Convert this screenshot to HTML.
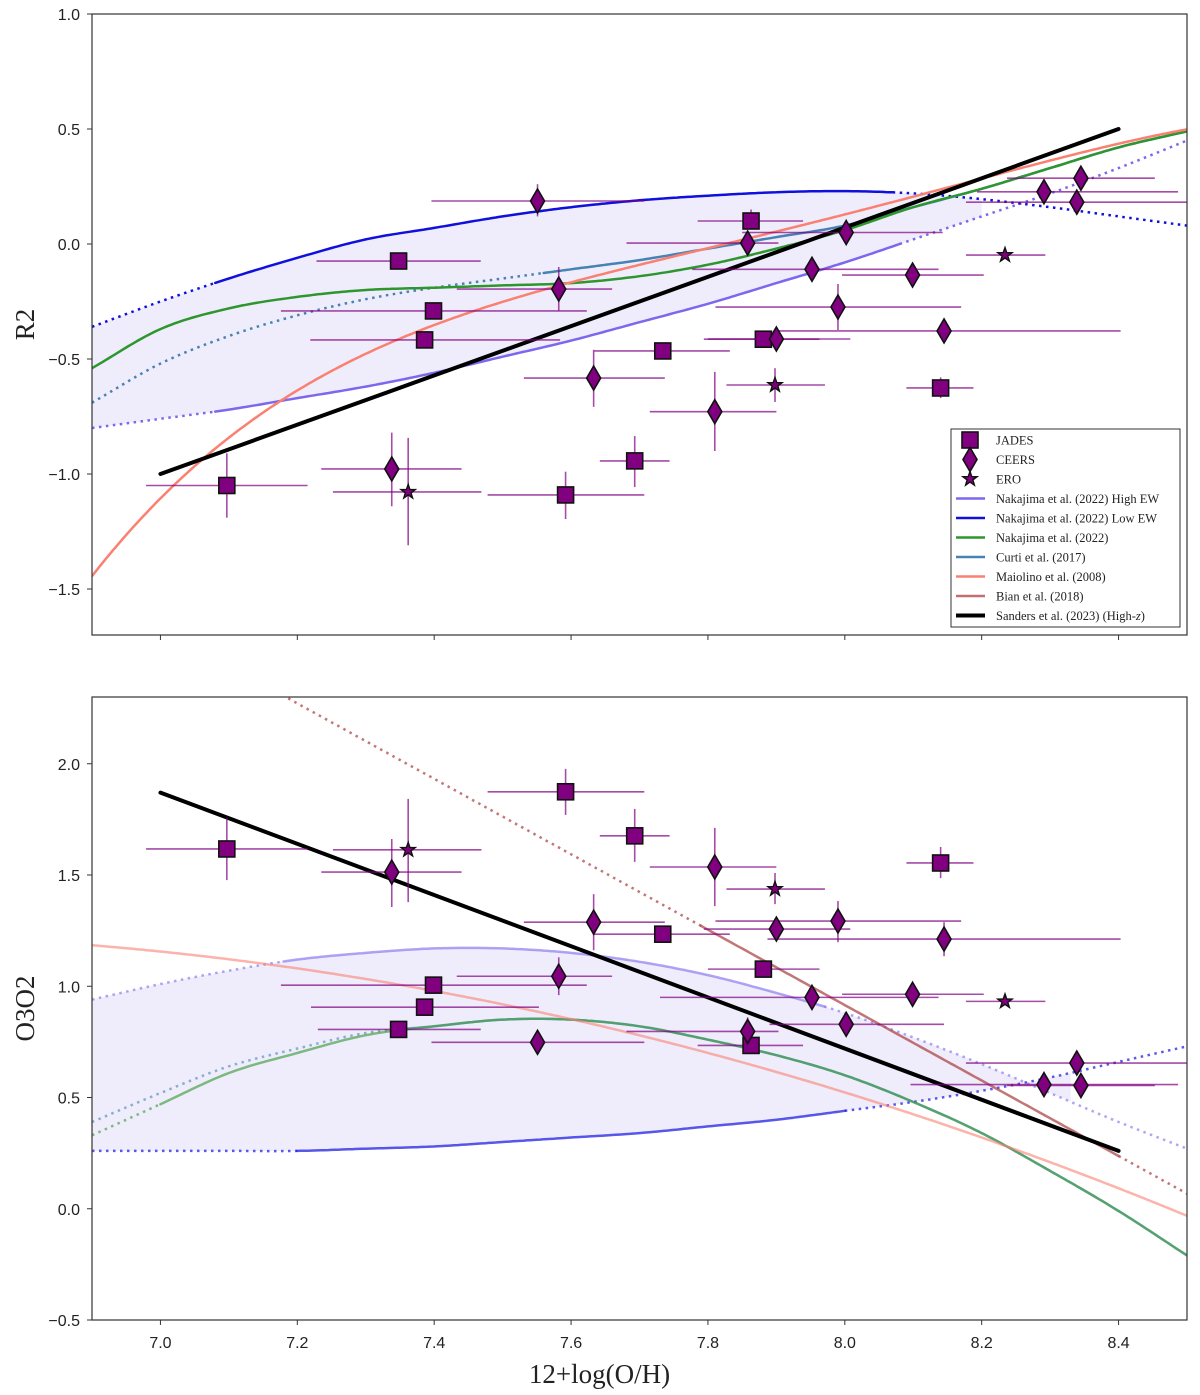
<!DOCTYPE html>
<html><head><meta charset="utf-8"><style>
body{margin:0;background:#fff}
svg{display:block}
text{font-family:"Liberation Sans",sans-serif}
.serif{font-family:"Liberation Serif",serif}
</style></head>
<body>
<svg id="fig" width="1200" height="1395" viewBox="0 0 1200 1395" xmlns="http://www.w3.org/2000/svg"></svg>
<script>
// ---------- data ----------
const gridX = [6.9,7.0,7.1,7.2,7.3,7.4,7.5,7.6,7.7,7.8,7.9,8.0,8.1,8.2,8.3,8.4,8.5];
// R2 calibrations (top)
const r2LowEW  = [-0.36,-0.25,-0.15,-0.06,0.02,0.07,0.12,0.16,0.19,0.21,0.225,0.23,0.22,0.195,0.16,0.12,0.08];
const r2HighEW = [-0.80,-0.76,-0.72,-0.67,-0.62,-0.56,-0.49,-0.42,-0.34,-0.26,-0.17,-0.08,0.02,0.12,0.22,0.33,0.45];
const r2Naka   = [-0.54,-0.37,-0.28,-0.23,-0.20,-0.19,-0.18,-0.17,-0.14,-0.09,-0.02,0.06,0.16,0.24,0.33,0.42,0.49];
const r2Curti  = [-0.69,-0.52,-0.40,-0.31,-0.24,-0.19,-0.15,-0.11,-0.07,-0.02,0.03,0.08,0.16,0.24,0.33,0.42,0.49];
const r2Maiolino = [0.5603,0.0450,-1.8017,-1.8434,-0.6549];
const r2Sanders = [[7.0,-1.0],[8.4,0.5]];
// O3O2 calibrations (bottom)
const o32HighEW = [0.94,1.01,1.07,1.12,1.15,1.17,1.17,1.15,1.11,1.05,0.97,0.88,0.77,0.65,0.52,0.39,0.27];
const o32LowEW  = [0.26,0.26,0.26,0.26,0.27,0.28,0.30,0.32,0.34,0.37,0.40,0.44,0.48,0.53,0.59,0.66,0.73];
const o32Naka   = [0.33,0.47,0.61,0.70,0.78,0.82,0.85,0.85,0.82,0.76,0.69,0.60,0.48,0.34,0.17,-0.01,-0.21];
const o32Curti  = [0.39,0.52,0.64,0.72,0.79,0.82,0.85,0.85,0.82,0.76,0.69,0.60,0.48,0.34,0.17,-0.01,-0.21];
const o32Maiolino = [-0.2839,-1.3881,-0.3172];
const o32Bian = [8.54,0.59];
const o32Sanders = [[7.0,1.87],[8.4,0.26]];
// points [x, y, xlo, xhi, ylo, yhi]
const jadesR2 = [[7.097,-1.05,6.979,7.215,-1.19,-0.91],[7.348,-0.074,7.228,7.468,-0.09,-0.05],[7.399,-0.291,7.176,7.623,-0.31,-0.27],[7.386,-0.417,7.219,7.584,-0.44,-0.39],[7.592,-1.091,7.478,7.707,-1.196,-0.99],[7.734,-0.465,7.634,7.832,-0.49,-0.44],[7.693,-0.943,7.642,7.744,-1.057,-0.835],[7.863,0.10,7.785,7.939,0.07,0.15],[7.881,-0.414,7.794,7.963,-0.44,-0.39],[8.140,-0.626,8.09,8.188,-0.67,-0.58]];
const ceersR2 = [[7.551,0.187,7.396,7.707,0.12,0.26],[7.582,-0.196,7.433,7.66,-0.29,-0.10],[7.633,-0.583,7.531,7.737,-0.708,-0.46],[7.338,-0.978,7.235,7.44,-1.14,-0.82],[7.858,0.004,7.681,7.903,-0.03,0.04],[8.002,0.05,7.85,8.143,0.02,0.08],[7.952,-0.11,7.777,8.137,-0.14,-0.08],[8.099,-0.135,7.996,8.203,-0.17,-0.10],[7.99,-0.274,7.811,8.17,-0.374,-0.174],[8.145,-0.378,7.899,8.403,-0.43,-0.33],[7.90,-0.413,7.80,8.008,-0.44,-0.39],[7.81,-0.729,7.715,7.90,-0.9,-0.556],[8.291,0.227,8.193,8.487,0.20,0.25],[8.345,0.286,8.237,8.453,0.26,0.31],[8.339,0.182,8.177,8.5,0.15,0.21]];
const eroR2 = [[7.362,-1.078,7.252,7.469,-1.31,-0.843],[7.898,-0.613,7.827,7.971,-0.687,-0.54],[8.234,-0.048,8.177,8.293,-0.06,-0.035]];
const jadesO32 = [[7.097,1.617,6.979,7.215,1.477,1.757],[7.348,0.806,7.23,7.468,0.79,0.82],[7.399,1.005,7.176,7.623,0.99,1.02],[7.386,0.906,7.22,7.553,0.88,0.93],[7.592,1.874,7.478,7.707,1.77,1.977],[7.734,1.234,7.634,7.832,1.22,1.25],[7.693,1.676,7.642,7.744,1.559,1.797],[7.863,0.734,7.785,7.939,0.72,0.75],[7.881,1.077,7.80,7.963,1.06,1.09],[8.14,1.554,8.09,8.188,1.486,1.626]];
const ceersO32 = [[7.551,0.748,7.396,7.707,0.73,0.77],[7.582,1.045,7.433,7.66,0.96,1.13],[7.633,1.288,7.531,7.737,1.162,1.414],[7.338,1.513,7.235,7.44,1.356,1.662],[7.858,0.797,7.681,7.903,0.73,0.86],[8.002,0.829,7.89,8.145,0.80,0.86],[7.952,0.95,7.73,8.137,0.93,0.97],[8.099,0.964,7.996,8.203,0.94,0.99],[7.99,1.293,7.811,8.17,1.198,1.383],[8.145,1.212,7.887,8.403,1.135,1.288],[7.90,1.257,7.794,8.008,1.23,1.28],[7.81,1.536,7.715,7.90,1.36,1.712],[8.291,0.558,8.096,8.487,0.54,0.58],[8.345,0.554,8.237,8.453,0.54,0.57],[8.339,0.655,8.177,8.5,0.63,0.68]];
const eroO32 = [[7.362,1.613,7.252,7.469,1.378,1.842],[7.898,1.437,7.827,7.971,1.369,1.509],[8.234,0.932,8.177,8.293,0.92,0.95]];
const xTicks = [7.0,7.2,7.4,7.6,7.8,8.0,8.2,8.4];
const yTicksTop = [1.0,0.5,0.0,-0.5,-1.0,-1.5];
const yTicksBot = [2.0,1.5,1.0,0.5,0.0,-0.5];

// ---------- helpers ----------
const NS="http://www.w3.org/2000/svg";
const svg=document.getElementById('fig');
function el(tag,attrs,parent){const e=document.createElementNS(NS,tag);for(const k in attrs)e.setAttribute(k,attrs[k]);(parent||svg).appendChild(e);return e;}
const X0=92,X1=1187;
function sx(v){return X0+(v-6.9)/(8.5-6.9)*(X1-X0);}
const topP={t:14,b:635,ymin:-1.7,ymax:1.0};
const botP={t:697,b:1320,ymin:-0.5,ymax:2.3};
function syf(p){return v=>p.b-(v-p.ymin)/(p.ymax-p.ymin)*(p.b-p.t);}
// Catmull-Rom smooth interpolation
function interp(arr,x){
  const n=gridX.length;
  let i=Math.floor((x-gridX[0])/(gridX[1]-gridX[0])+1e-9);
  if(i<0)i=0; if(i>n-2)i=n-2;
  const t=(x-gridX[i])/(gridX[i+1]-gridX[i]);
  const p0=arr[Math.max(i-1,0)],p1=arr[i],p2=arr[i+1],p3=arr[Math.min(i+2,n-1)];
  const m1=i>0?(p2-p0)/2:(p2-p1), m2=i<n-2?(p3-p1)/2:(p2-p1);
  const t2=t*t,t3=t2*t;
  return (2*t3-3*t2+1)*p1+(t3-2*t2+t)*m1+(-2*t3+3*t2)*p2+(t3-t2)*m2;
}
function polyv(c,x){const u=x-8.69;let s=0;for(let i=0;i<c.length;i++)s+=c[i]*Math.pow(u,i);return s;}
function pts(fn,a,b,sy){let s=[];const n=Math.max(2,Math.round((b-a)/0.005));for(let i=0;i<=n;i++){const x=a+(b-a)*i/n;s.push(sx(x).toFixed(1)+','+sy(fn(x)).toFixed(1));}return s.join(' ');}
function curve(g,fn,a,b,sy,col,w,dotted,op,name){
  const p=el('polyline',{points:pts(fn,a,b,sy),fill:'none',stroke:col,'stroke-width':w,'stroke-opacity':op,'stroke-linecap':dotted?'butt':'round','stroke-linejoin':'round'},g);
  if(dotted)p.setAttribute('stroke-dasharray','2.5,4.5');
  
  
}
function seg(g,fn,solidA,solidB,sy,col,w,op,name){
  if(solidA>6.9)curve(g,fn,6.9,solidA,sy,col,w,true,op,name+'-dotted');
  curve(g,fn,solidA,solidB,sy,col,w,false,op,name);
  if(solidB<8.5)curve(g,fn,solidB,8.5,sy,col,w,true,op,name+'-dotted');
}
function shade(g,f1,f2,a,b,sy){
  let s=[];const n=200;
  for(let i=0;i<=n;i++){const x=a+(b-a)*i/n;s.push(sx(x)+','+sy(f1(x)));}
  for(let i=n;i>=0;i--){const x=a+(b-a)*i/n;s.push(sx(x)+','+sy(f2(x)));}
  const p=el('polygon',{points:s.join(' '),fill:'#efedfb'},g);
  
  
}
const PUR='#800080';
function marker(g,type,cx,cy,name){
  let m;
  if(type==='s')m=el('rect',{x:cx-8,y:cy-8,width:16,height:16,fill:PUR,stroke:'#111','stroke-width':1.6},g);
  else if(type==='d')m=el('polygon',{points:`${cx},${cy-12} ${cx+7},${cy} ${cx},${cy+12} ${cx-7},${cy}`,fill:PUR,stroke:'#111','stroke-width':1.6},g);
  else{let s=[];for(let i=0;i<10;i++){const r=i%2?3:7.5;const a=-Math.PI/2+i*Math.PI/5;s.push((cx+r*Math.cos(a)).toFixed(1)+','+(cy+r*Math.sin(a)).toFixed(1));}
    m=el('polygon',{points:s.join(' '),fill:PUR,stroke:'#111','stroke-width':1.4},g);}
  
  
}
function drawPoints(g,data,type,sy,name){
  data.forEach(d=>{
    const e1=el('line',{x1:sx(d[2]),x2:sx(d[3]),y1:sy(d[1]),y2:sy(d[1]),stroke:PUR,'stroke-width':1.6,'stroke-opacity':0.7},g);
    
    
    const e2=el('line',{x1:sx(d[0]),x2:sx(d[0]),y1:sy(d[4]),y2:sy(d[5]),stroke:PUR,'stroke-width':1.6,'stroke-opacity':0.7},g);
    
    
  });
  data.forEach(d=>marker(g,type,sx(d[0]),sy(d[1]),name+'-marker'));
}
function axes(p,yticks,ylabel,showXLabels,panelName){
  const sy=syf(p);
  const g=el('g',{},svg);
  
  
  el('rect',{x:X0,y:p.t,width:X1-X0,height:p.b-p.t,fill:'none',stroke:'#333','stroke-width':1.2},g);
  yticks.forEach(v=>{
    el('line',{x1:X0-5,x2:X0,y1:sy(v),y2:sy(v),stroke:'#333','stroke-width':1},g);
    const t=el('text',{x:X0-12,y:sy(v)+6,'text-anchor':'end','font-size':16,fill:'#222'},g);
    t.textContent=(v<0?'\u2212':'')+Math.abs(v).toFixed(1);
    
    
  });
  xTicks.forEach(v=>{
    el('line',{x1:sx(v),x2:sx(v),y1:p.b,y2:p.b+5,stroke:'#333','stroke-width':1},g);
    if(showXLabels){const t=el('text',{x:sx(v),y:p.b+28,'text-anchor':'middle','font-size':16,fill:'#222'},g);
      t.textContent=v.toFixed(1);
      
      }
  });
  const yl=el('text',{x:0,y:0,'text-anchor':'middle','font-size':27,fill:'#222','class':'serif',transform:`translate(34,${(p.t+p.b)/2}) rotate(-90)`},g);
  yl.textContent=ylabel;
  
  
}

// ---------- top panel ----------
(function(){
  const sy=syf(topP);
  const cp=el('clipPath',{id:'ct'});el('rect',{x:X0,y:topP.t,width:X1-X0,height:topP.b-topP.t},cp);
  const g=el('g',{'clip-path':'url(#ct)'});
  
  
  const lo=x=>interp(r2LowEW,x),hi=x=>interp(r2HighEW,x);
  shade(g,lo,hi,6.9,8.2,sy);
  seg(g,hi,7.08,8.08,sy,'#7b68ee',2.5,1,'nakajima-high-ew-line');
  seg(g,lo,7.08,8.07,sy,'#1010dd',2.5,1,'nakajima-low-ew-line');
  seg(g,x=>interp(r2Curti,x),7.56,8.5,sy,'#4682b4',2.5,1,'curti-line');
  seg(g,x=>interp(r2Naka,x),6.9,8.5,sy,'#2e962e',2.5,1,'nakajima-line');
  seg(g,x=>polyv(r2Maiolino,x),6.9,8.5,sy,'#fa8072',2.5,1,'maiolino-line');
  const s=el('line',{x1:sx(r2Sanders[0][0]),y1:sy(r2Sanders[0][1]),x2:sx(r2Sanders[1][0]),y2:sy(r2Sanders[1][1]),stroke:'#000','stroke-width':4,'stroke-linecap':'round'},g);
  
  
  drawPoints(g,jadesR2,'s',sy,'jades');
  drawPoints(g,ceersR2,'d',sy,'ceers');
  drawPoints(g,eroR2,'*',sy,'ero');
  axes(topP,yTicksTop,'R2',false,'top');
})();

// ---------- bottom panel ----------
(function(){
  const sy=syf(botP);
  const cp=el('clipPath',{id:'cb'});el('rect',{x:X0,y:botP.t,width:X1-X0,height:botP.b-botP.t},cp);
  const g=el('g',{'clip-path':'url(#cb)'});
  
  
  const lo=x=>interp(o32LowEW,x),hi=x=>interp(o32HighEW,x);
  shade(g,lo,hi,6.9,8.33,sy);
  seg(g,hi,7.18,7.97,sy,'#7b68ee',2.5,0.6,'nakajima-high-ew-line');
  seg(g,lo,7.2,8.0,sy,'#0000e0',2.5,0.65,'nakajima-low-ew-line');
  seg(g,x=>interp(o32Curti,x),7.35,8.5,sy,'#4682b4',2.5,0.6,'curti-line');
  seg(g,x=>interp(o32Naka,x),7.0,8.5,sy,'#2e962e',2.5,0.6,'nakajima-line');
  seg(g,x=>polyv(o32Maiolino,x),6.9,8.5,sy,'#fa8072',2.5,0.6,'maiolino-line');
  seg(g,x=>(o32Bian[0]-x)/o32Bian[1],7.79,8.4,sy,'#a83c3c',2.5,0.7,'bian-line');
  const s=el('line',{x1:sx(o32Sanders[0][0]),y1:sy(o32Sanders[0][1]),x2:sx(o32Sanders[1][0]),y2:sy(o32Sanders[1][1]),stroke:'#000','stroke-width':4,'stroke-linecap':'round'},g);
  
  
  drawPoints(g,jadesO32,'s',sy,'jades');
  drawPoints(g,ceersO32,'d',sy,'ceers');
  drawPoints(g,eroO32,'*',sy,'ero');
  axes(botP,yTicksBot,'O3O2',true,'bottom');
  const xl=el('text',{x:(X0+X1)/2-40,y:1383,'text-anchor':'middle','font-size':27,fill:'#222','class':'serif'});
  xl.textContent='12+log(O/H)';
  
  
})();

// ---------- legend ----------
(function(){
  const g=el('g',{});
  
  
  el('rect',{x:951,y:429,width:229,height:198,fill:'#fff',stroke:'#333','stroke-width':1},g);
  const labels=['JADES','CEERS','ERO','Nakajima et al. (2022) High EW','Nakajima et al. (2022) Low EW','Nakajima et al. (2022)','Curti et al. (2017)','Maiolino et al. (2008)','Bian et al. (2018)','Sanders et al. (2023) (High-'];
  const cols=[null,null,null,'#7b68ee','#1010dd','#2e962e','#4682b4','#fa8072','#c07070','#000'];
  labels.forEach((l,i)=>{
    const y=440+i*19.5;
    if(i===0)marker(g,'s',970,y,'legend-jades-marker');
    else if(i===1)marker(g,'d',970,y,'legend-ceers-marker');
    else if(i===2)marker(g,'*',970,y,'legend-ero-marker');
    else{const ln=el('line',{x1:956,x2:985,y1:y,y2:y,stroke:cols[i],'stroke-width':i===9?4:2.5},g);
      
      }
    const t=el('text',{x:996,y:y+4.5,'font-size':12.5,fill:'#222','class':'serif'},g);
    t.textContent=l;
    if(i===9){const z=el('tspan',{'font-style':'italic'},t);z.textContent='z';const r=el('tspan',{},t);r.textContent=')';}
    
    
  });
})();
</script>
</body></html>
